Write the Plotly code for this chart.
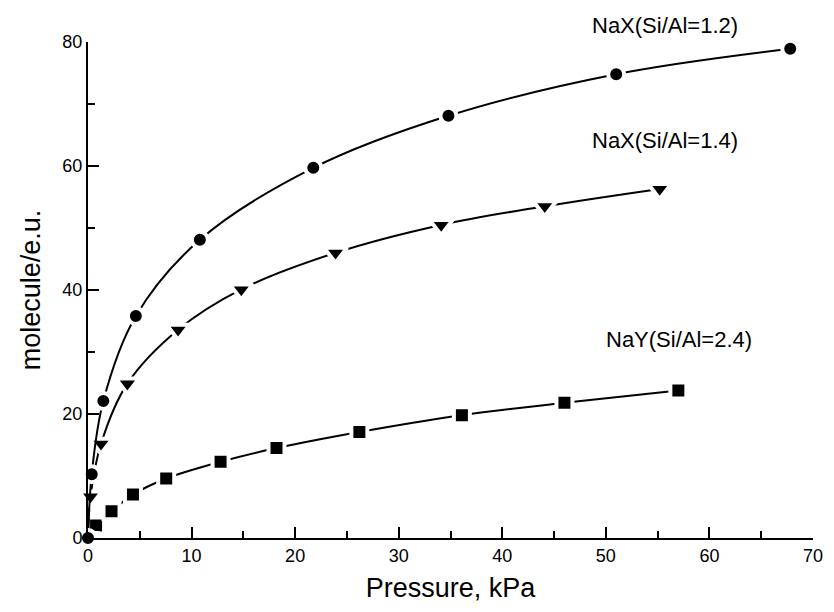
import plotly.graph_objects as go

# Data
nax12_p = [0, 0.36, 1.48, 4.62, 10.8, 21.75, 34.8, 51.0, 67.8]
nax12_q = [0, 10.3, 22.1, 35.8, 48.1, 59.7, 68.1, 74.8, 78.9]

nax14_p = [0, 0.24, 1.26, 3.8, 8.7, 14.8, 23.9, 34.1, 44.1, 55.2]
nax14_q = [0, 6.7, 15.2, 24.9, 33.6, 40.1, 46.0, 50.5, 53.5, 56.3]

nay_p = [0, 0.78, 2.27, 4.34, 7.55, 12.8, 18.2, 26.2, 36.1, 46.0, 57.0]
nay_q = [0, 2.0, 4.3, 7.0, 9.6, 12.3, 14.5, 17.1, 19.8, 21.8, 23.8]

labels = ["NaX(Si/Al=1.2)", "NaX(Si/Al=1.4)", "NaY(Si/Al=2.4)"]

FONT = "Arial, Liberation Sans, Helvetica, sans-serif"

fig = go.Figure()

def add(px, q, symbol, size):
    fig.add_trace(go.Scatter(
        x=px, y=q, mode="lines+markers",
        line=dict(color="black", width=2, shape="spline", smoothing=1.0),
        marker=dict(symbol=symbol, size=size, color="black",
                    line=dict(color="white", width=4)),
        cliponaxis=False, showlegend=False))

add(nay_p, nay_q, "square", 16)
add(nax14_p, nax14_q, "triangle-down", 20)
add(nax12_p, nax12_q, "circle", 16)

ann_pos = [(0.796, 1.034), (0.796, 0.802), (0.815, 0.40)]
for t, (ax, ay) in zip(labels, ann_pos):
    fig.add_annotation(text=t, x=ax, y=ay, xref="paper", yref="paper",
                       xanchor="center", yanchor="middle",
                       showarrow=False, font=dict(family=FONT, size=22, color="black"))

axis_common = dict(
    showgrid=False, zeroline=False, showline=True, linecolor="black", linewidth=2,
    ticks="inside", tickcolor="black", tickwidth=2, ticklen=11,
    tickfont=dict(family=FONT, size=18, color="black"),
)

fig.update_xaxes(range=[0, 70], dtick=10, tick0=0,
                 minor=dict(dtick=5, ticks="inside", ticklen=7, tickcolor="black", tickwidth=2),
                 title=dict(text="Pressure, kPa", font=dict(family=FONT, size=27, color="black"), standoff=14),
                 **axis_common)
fig.update_yaxes(range=[0, 80], dtick=20, tick0=0,
                 minor=dict(dtick=10, ticks="inside", ticklen=7, tickcolor="black", tickwidth=2),
                 title=dict(text="molecule/e.u.", font=dict(family=FONT, size=27, color="black"), standoff=14),
                 **axis_common)

fig.update_layout(
    width=834, height=612,
    margin=dict(l=88, r=11, t=42, b=74),
    plot_bgcolor="white", paper_bgcolor="white",
)

fig.write_html("out.html")
